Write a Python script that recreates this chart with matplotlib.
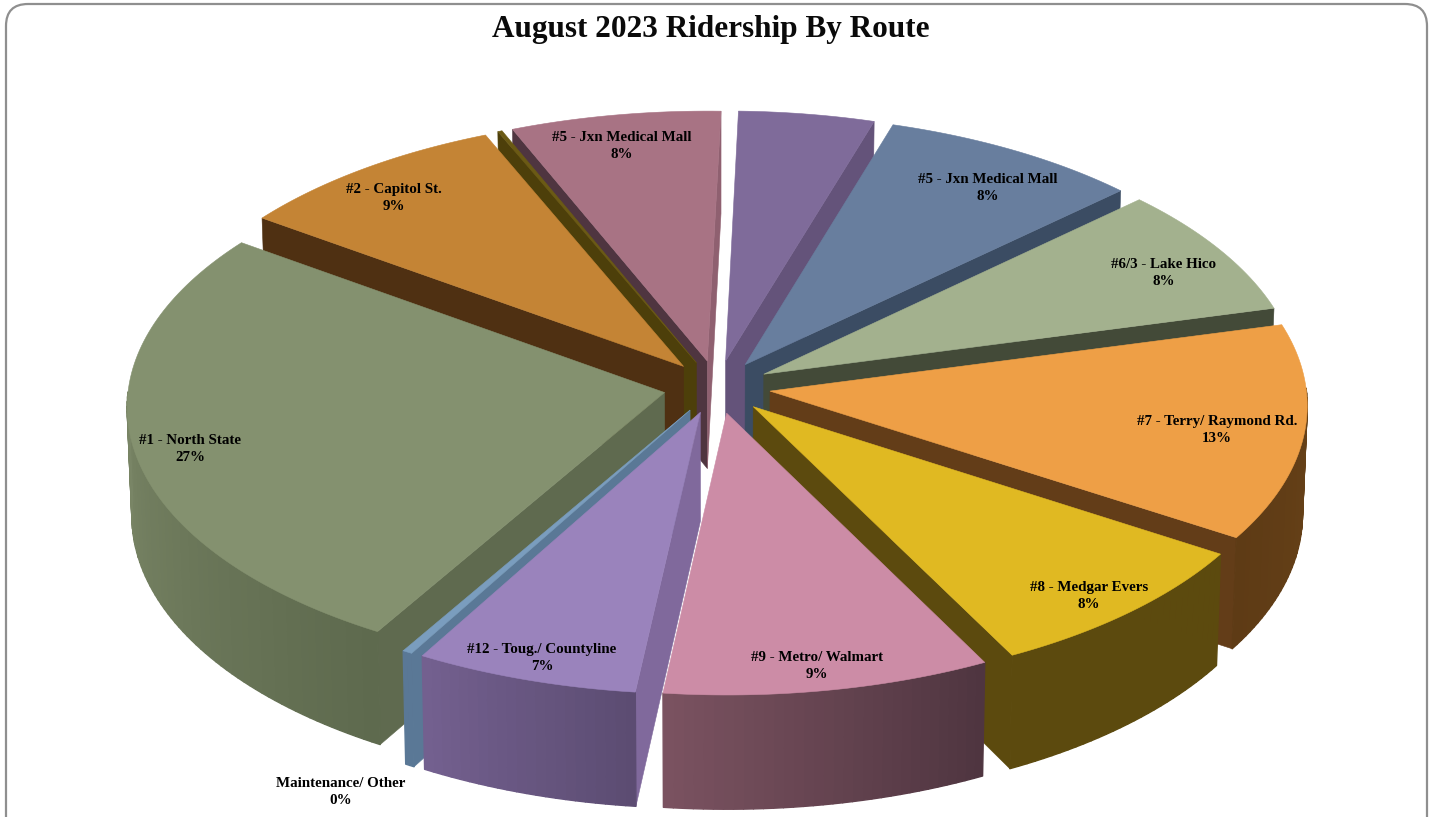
import numpy as np
import matplotlib
matplotlib.use("Agg")
import matplotlib.pyplot as plt
from matplotlib.patches import FancyBboxPatch, Polygon
from matplotlib.collections import PolyCollection
from matplotlib.colors import to_rgb

# ---- data ----
TITLE = "August 2023 Ridership By Route"
routes = ["#4", "#5 - Jxn Medical Mall", "#6/3 - Lake Hico", "#7 - Terry/ Raymond Rd.",
          "#8 - Medgar Evers", "#9 - Metro/ Walmart", "#12 - Toug./ Countyline",
          "Maintenance/ Other", "#1 - North State", "#2 - Capitol St.", "", "#5 - Jxn Medical Mall"]
shares = [4.31, 8.28, 7.92, 13.11, 8.42, 9.36, 6.39, 0.28, 26.39, 8.75, 0.14, 6.67]
pct_labels = ["", "8%", "8%", "13%", "8%", "9%", "7%", "0%", "27%", "9%", "", "8%"]

# ---- styles ----
top_col = ["#7F6B9A", "#687E9E", "#A3B18E", "#EE9F46", "#E0B922", "#CC8CA6",
           "#9A83BC", "#7A9DBE", "#84916F", "#C48435", "#6B5A14", "#A87384"]
start_wall = ["#64537A", "#3B4C63", "#434A38", "#633D18", "#5C4A0E", "#8A6676",
              "#80699C", "#5A7896", "#5F6A4F", "#4F3012", "#4D3F0A", "#4F3540"]
end_wall = ["#64537A", "#3B4C63", "#434A38", "#633D18", "#5C4A0E", "#4F3540",
            "#80699C", "#5A7896", "#5F6A4F", "#4F3012", "#4D3F0A", "#8F6070"]
outer_a = ["#64537A", "#3B4C63", "#434A38", "#6B4419", "#5C4A0E", "#4F3540",
           "#5C4C72", "#5A7896", "#5E6A4E", "#4F3012", "#4D3F0A", "#4F3540"]
outer_b = ["#64537A", "#3B4C63", "#434A38", "#5E3B15", "#5C4A0E", "#7A5260",
           "#73608F", "#5A7896", "#8A9674", "#4F3012", "#4D3F0A", "#4F3540"]
label_xy = [None, (988, 188), (1164, 273), (1217, 430), (1089, 596), (817, 666),
            (542, 658), (341, 792), (190, 449), (394, 198), None, (622, 146)]

START_DEG = 1.5
CX, CY = 717, 387
RX, RY, DEPTH = 536, 265, 108
PERSP, EXPLODE = 0.05, 0.10
BOTTOM_SHRINK = 0.008


def project(x, y, z):
    """Ground coords (x right, y back), z=0 top face, z=1 bottom face."""
    x, y = np.asarray(x, float), np.asarray(y, float)
    w = 1 + PERSP * y
    sx = CX + RX * x / w * (1 - BOTTOM_SHRINK * z)
    sy = CY - RY * y / w + DEPTH * z / w
    return np.column_stack([sx, sy])


def area(p):
    return 0.5 * np.sum(p[:, 0] * np.roll(p[:, 1], -1) - np.roll(p[:, 0], -1) * p[:, 1])


fig = plt.figure(figsize=(14.33, 8.17), dpi=100)
ax = fig.add_axes([0, 0, 1, 1])
ax.set_xlim(0, 1433)
ax.set_ylim(817, 0)
ax.axis("off")

ax.add_patch(FancyBboxPatch((6 + 22, 4 + 22), 1421 - 44, 840, boxstyle="round,pad=22,rounding_size=22",
                            fc="white", ec="#8F8F8F", lw=1.6, zorder=0))

ax.text(711, 29, TITLE, ha="center", va="center", fontsize=22.5, fontweight="bold",
        family="Liberation Serif", color="#0A0A0A")

edges = START_DEG + np.concatenate([[0], np.cumsum(shares)]) * 360 / np.sum(shares)
mids = np.radians((edges[:-1] + edges[1:]) / 2)
order = np.argsort(-np.cos(mids))

z = 1
for i in order:
    a0, a1 = edges[i], edges[i + 1]
    th = np.radians(np.linspace(a0, a1, max(3, int(a1 - a0) + 1)))
    ox, oy = EXPLODE * np.sin(mids[i]), EXPLODE * np.cos(mids[i])
    rimx, rimy = ox + np.sin(th), oy + np.cos(th)
    tip_t = project([ox], [oy], 0)[0]
    tip_b = project([ox], [oy], 1)[0]
    rim_t, rim_b = project(rimx, rimy, 0), project(rimx, rimy, 1)

    # radial walls, only the ones that face the viewer (screen y points down)
    wall0 = np.array([tip_t, rim_t[0], rim_b[0], tip_b])
    wall1 = np.array([tip_t, rim_t[-1], rim_b[-1], tip_b])
    if area(wall0) < 0:
        ax.add_patch(Polygon(wall0, closed=True, fc=start_wall[i], ec=start_wall[i], lw=0.4, zorder=z))
    z += 1
    if area(wall1) > 0:
        ax.add_patch(Polygon(wall1, closed=True, fc=end_wall[i], ec=end_wall[i], lw=0.4, zorder=z))
    z += 1

    # curved outer wall, shaded by facets
    quads, cols = [], []
    ca, cb = np.array(to_rgb(outer_a[i])), np.array(to_rgb(outer_b[i]))
    for k in range(len(th) - 1):
        if np.cos((th[k] + th[k + 1]) / 2) < 0.01:
            quads.append([rim_t[k], rim_t[k + 1], rim_b[k + 1], rim_b[k]])
            f = k / max(1, len(th) - 2)
            cols.append(tuple(ca + (cb - ca) * f))
    if quads:
        ax.add_collection(PolyCollection(quads, facecolors=cols, edgecolors=cols, linewidths=1.0, zorder=z))
    z += 1

    # top face
    ax.add_patch(Polygon(np.vstack([tip_t, rim_t]), closed=True, fc=top_col[i], ec=top_col[i],
                         lw=0.4, zorder=z))
    z += 1

for name, pct, xy in zip(routes, pct_labels, label_xy):
    if xy is None:
        continue
    ax.text(xy[0], xy[1], f"{name}\n{pct}", ha="center", va="center", fontsize=10.8,
            fontweight="bold", family="Liberation Serif", color="black", linespacing=1.38,
            zorder=z + 1)

fig.savefig("out.png", dpi=100, facecolor="white")
